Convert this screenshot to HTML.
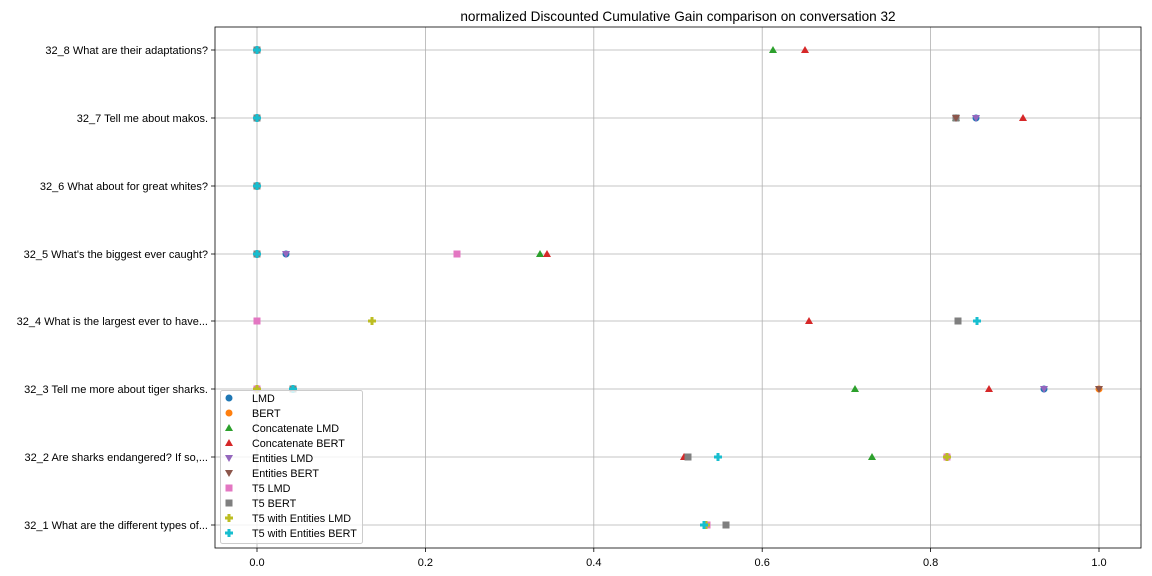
<!DOCTYPE html>
<html><head><style>body{margin:0;background:#fff}svg{display:block;font-family:"Liberation Sans",sans-serif}</style></head><body>
<svg width="1152" height="576" xmlns="http://www.w3.org/2000/svg">
<defs>
<circle id="c" r="3.5"/>
<path id="tu" d="M0,-4 L4,3 L-4,3Z"/>
<path id="td" d="M0,4 L4,-3 L-4,-3Z"/>
<rect id="s" x="-3.5" y="-3.5" width="7" height="7"/>
<path id="p" d="M-1.5,-4h3v2.5h2.5v3h-2.5v2.5h-3v-2.5h-2.5v-3h2.5z"/>
</defs>
<rect x="0" y="0" width="1152" height="576" fill="#fff"/>
<text x="678" y="21" font-size="13.6" text-anchor="middle">normalized Discounted Cumulative Gain comparison on conversation 32</text>
<g stroke="#b0b0b0" stroke-width="0.8">
<line x1="257" y1="27" x2="257" y2="548"/><line x1="425.4" y1="27" x2="425.4" y2="548"/><line x1="593.8" y1="27" x2="593.8" y2="548"/><line x1="762.2" y1="27" x2="762.2" y2="548"/><line x1="930.6" y1="27" x2="930.6" y2="548"/><line x1="1099" y1="27" x2="1099" y2="548"/>
<line x1="215" y1="50" x2="1141" y2="50"/><line x1="215" y1="118" x2="1141" y2="118"/><line x1="215" y1="186" x2="1141" y2="186"/><line x1="215" y1="254" x2="1141" y2="254"/><line x1="215" y1="321" x2="1141" y2="321"/><line x1="215" y1="389" x2="1141" y2="389"/><line x1="215" y1="457" x2="1141" y2="457"/><line x1="215" y1="525" x2="1141" y2="525"/>
</g>
<rect x="215" y="27" width="926" height="521" fill="none" stroke="#000" stroke-width="0.8"/>
<g stroke="#000" stroke-width="0.8">
<line x1="257" y1="548" x2="257" y2="552"/><line x1="425.4" y1="548" x2="425.4" y2="552"/><line x1="593.8" y1="548" x2="593.8" y2="552"/><line x1="762.2" y1="548" x2="762.2" y2="552"/><line x1="930.6" y1="548" x2="930.6" y2="552"/><line x1="1099" y1="548" x2="1099" y2="552"/>
<line x1="211" y1="50" x2="215" y2="50"/><line x1="211" y1="118" x2="215" y2="118"/><line x1="211" y1="186" x2="215" y2="186"/><line x1="211" y1="254" x2="215" y2="254"/><line x1="211" y1="321" x2="215" y2="321"/><line x1="211" y1="389" x2="215" y2="389"/><line x1="211" y1="457" x2="215" y2="457"/><line x1="211" y1="525" x2="215" y2="525"/>
</g>
<g font-size="11" text-anchor="middle">
<text x="257" y="566">0.0</text><text x="425.4" y="566">0.2</text><text x="593.8" y="566">0.4</text><text x="762.2" y="566">0.6</text><text x="930.6" y="566">0.8</text><text x="1099" y="566">1.0</text>
</g>
<g font-size="11" text-anchor="end">
<text x="208" y="54">32_8 What are their adaptations?</text>
<text x="208" y="122">32_7 Tell me about makos.</text>
<text x="208" y="190">32_6 What about for great whites?</text>
<text x="208" y="258">32_5 What's the biggest ever caught?</text>
<text x="208" y="325">32_4 What is the largest ever to have...</text>
<text x="208" y="393">32_3 Tell me more about tiger sharks.</text>
<text x="208" y="461">32_2 Are sharks endangered? If so,...</text>
<text x="208" y="529">32_1 What are the different types of...</text>
</g>
<g>
<use href="#s" x="257" y="50" fill="#7f7f7f"/><use href="#p" x="257" y="50" fill="#17becf"/>
<use href="#s" x="257" y="118" fill="#7f7f7f"/><use href="#p" x="257" y="118" fill="#17becf"/>
<use href="#s" x="257" y="186" fill="#7f7f7f"/><use href="#p" x="257" y="186" fill="#17becf"/>
<use href="#s" x="257" y="254" fill="#7f7f7f"/><use href="#p" x="257" y="254" fill="#17becf"/>
<use href="#tu" x="773" y="50" fill="#2ca02c"/><use href="#tu" x="805" y="50" fill="#d62728"/>
<use href="#tu" x="956" y="118" fill="#2ca02c"/><use href="#s" x="956" y="118" fill="#7f7f7f"/><use href="#td" x="956" y="118" fill="#8c564b"/>
<use href="#c" x="976" y="118" fill="#1f77b4"/><use href="#td" x="976" y="118" fill="#9467bd"/>
<use href="#tu" x="1023" y="118" fill="#d62728"/>
<use href="#c" x="286" y="254" fill="#1f77b4"/><use href="#td" x="286" y="254" fill="#9467bd"/>
<use href="#s" x="457" y="254" fill="#e377c2"/>
<use href="#tu" x="540" y="254" fill="#2ca02c"/><use href="#tu" x="547" y="254" fill="#d62728"/>
<use href="#s" x="257" y="321" fill="#e377c2"/><use href="#p" x="372" y="321" fill="#bcbd22"/>
<use href="#tu" x="809" y="321" fill="#d62728"/><use href="#s" x="958" y="321" fill="#7f7f7f"/><use href="#p" x="977" y="321" fill="#17becf"/>
<use href="#s" x="257" y="389" fill="#e377c2"/><use href="#p" x="257" y="389" fill="#bcbd22"/>
<use href="#s" x="293" y="389" fill="#7f7f7f"/><use href="#p" x="293" y="389" fill="#17becf"/>
<use href="#tu" x="855" y="389" fill="#2ca02c"/><use href="#tu" x="989" y="389" fill="#d62728"/>
<use href="#c" x="1044" y="389" fill="#1f77b4"/><use href="#td" x="1044" y="389" fill="#9467bd"/>
<use href="#c" x="1099" y="389" fill="#ff7f0e"/><use href="#td" x="1099" y="389" fill="#8c564b"/>
<use href="#tu" x="684" y="457" fill="#d62728"/><use href="#s" x="688" y="457" fill="#7f7f7f"/><use href="#p" x="718" y="457" fill="#17becf"/>
<use href="#tu" x="872" y="457" fill="#2ca02c"/><use href="#s" x="947" y="457" fill="#e377c2"/><use href="#p" x="947" y="457" fill="#bcbd22"/>
<use href="#s" x="707" y="525" fill="#e377c2"/><use href="#p" x="706" y="525" fill="#bcbd22"/><use href="#p" x="704" y="525" fill="#17becf"/>
<use href="#s" x="726" y="525" fill="#7f7f7f"/>
</g>
<rect x="220.5" y="390.5" width="142" height="153" rx="2" fill="#fff" fill-opacity="0.8" stroke="#ccc"/>
<g font-size="10.8">
<use href="#c" x="229" y="398" fill="#1f77b4"/><text x="252" y="402">LMD</text>
<use href="#c" x="229" y="413" fill="#ff7f0e"/><text x="252" y="417">BERT</text>
<use href="#tu" x="229" y="428" fill="#2ca02c"/><text x="252" y="432">Concatenate LMD</text>
<use href="#tu" x="229" y="443" fill="#d62728"/><text x="252" y="447">Concatenate BERT</text>
<use href="#td" x="229" y="458" fill="#9467bd"/><text x="252" y="462">Entities LMD</text>
<use href="#td" x="229" y="473" fill="#8c564b"/><text x="252" y="477">Entities BERT</text>
<use href="#s" x="229" y="488" fill="#e377c2"/><text x="252" y="492">T5 LMD</text>
<use href="#s" x="229" y="503" fill="#7f7f7f"/><text x="252" y="507">T5 BERT</text>
<use href="#p" x="229" y="518" fill="#bcbd22"/><text x="252" y="522">T5 with Entities LMD</text>
<use href="#p" x="229" y="533" fill="#17becf"/><text x="252" y="537">T5 with Entities BERT</text>
</g>
</svg>
</body></html>
